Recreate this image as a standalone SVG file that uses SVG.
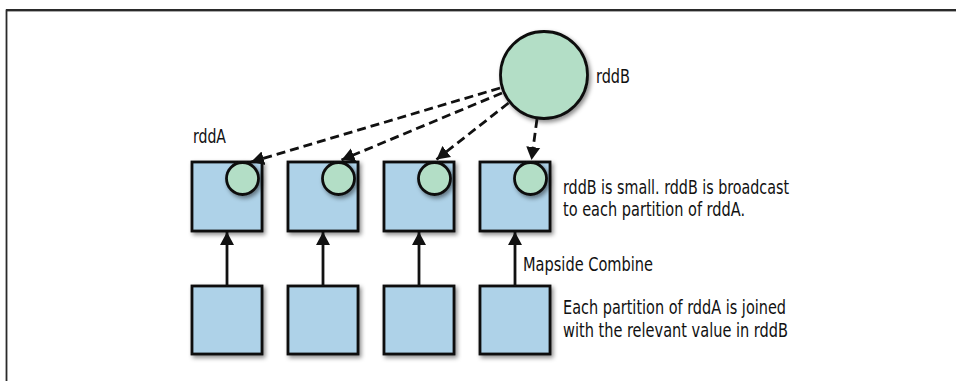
<svg xmlns="http://www.w3.org/2000/svg" width="956" height="381" viewBox="0 0 956 381">
  <style>
    .box { fill: #aed2e8; stroke: #111; stroke-width: 2.8; }
    .dot { fill: #b3dec6; stroke: #111; stroke-width: 2.8; }
    .lbl { font-family: 'DejaVu Sans Condensed', 'Liberation Sans', sans-serif; font-size: 20px; fill: #111; }
    .dash { stroke: #111; stroke-width: 2.8; stroke-dasharray: 9 5; fill: none; }
    .solid { stroke: #111; stroke-width: 2.8; fill: none; }
  </style>
  <defs>
    <filter id="sh" x="-20%" y="-20%" width="150%" height="150%">
      <feDropShadow dx="2" dy="2.5" stdDeviation="2" flood-color="#000" flood-opacity="0.45"/>
    </filter>
    <marker id="ah" markerUnits="userSpaceOnUse" markerWidth="15" markerHeight="15" refX="13" refY="7.5" orient="auto" viewBox="0 0 15 15">
      <path d="M0,0.5 L13,7.5 L0,14.5 z" fill="#111"/>
    </marker>
  </defs>
  <rect width="956" height="381" fill="#fff"/>
  <g id="frame">
    <line x1="6" y1="10" x2="956" y2="10" stroke="#2a2a2a" stroke-width="1.8"/>
    <line x1="6" y1="11.5" x2="956" y2="11.5" stroke="#aaa" stroke-width="1"/>
    <line x1="6.5" y1="9.5" x2="6.5" y2="381" stroke="#2a2a2a" stroke-width="1.8"/>
  </g>

  <g id="rddB">
    <circle class="dot" cx="544" cy="75" r="43.5" filter="url(#sh)"/>
    <text class="lbl" x="596" y="83" textLength="34" lengthAdjust="spacingAndGlyphs">rddB</text>
  </g>
  <g id="rddA-label">
    <text class="lbl" x="193" y="143" textLength="33" lengthAdjust="spacingAndGlyphs">rddA</text>
  </g>

  <g id="partA1"><rect class="box" x="192" y="162" width="70" height="69" filter="url(#sh)"/><circle class="dot" cx="242.5" cy="178.5" r="16" filter="url(#sh)"/></g>
  <g id="partA2"><rect class="box" x="288" y="162" width="70" height="69" filter="url(#sh)"/><circle class="dot" cx="338.5" cy="178.5" r="16" filter="url(#sh)"/></g>
  <g id="partA3"><rect class="box" x="384" y="162" width="70" height="69" filter="url(#sh)"/><circle class="dot" cx="434.5" cy="178.5" r="16" filter="url(#sh)"/></g>
  <g id="partA4"><rect class="box" x="480" y="162" width="70" height="69" filter="url(#sh)"/><circle class="dot" cx="530.5" cy="178.5" r="16" filter="url(#sh)"/></g>

  <g id="src1"><rect class="box" x="192" y="286" width="70" height="68" filter="url(#sh)"/></g>
  <g id="src2"><rect class="box" x="288" y="286" width="70" height="68" filter="url(#sh)"/></g>
  <g id="src3"><rect class="box" x="384" y="286" width="70" height="68" filter="url(#sh)"/></g>
  <g id="src4"><rect class="box" x="480" y="286" width="70" height="68" filter="url(#sh)"/></g>

  <g id="connectors">
    <line class="dash" x1="500" y1="88" x2="251" y2="162" marker-end="url(#ah)"/>
    <line class="dash" x1="502" y1="93" x2="341.5" y2="160" marker-end="url(#ah)"/>
    <line class="dash" x1="508.5" y1="103" x2="436.5" y2="159.5" marker-end="url(#ah)"/>
    <line class="dash" x1="537" y1="119" x2="531.5" y2="160" marker-end="url(#ah)"/>
    <line class="solid" x1="227" y1="286" x2="227" y2="232" marker-end="url(#ah)"/>
    <line class="solid" x1="323" y1="286" x2="323" y2="232" marker-end="url(#ah)"/>
    <line class="solid" x1="419" y1="286" x2="419" y2="232" marker-end="url(#ah)"/>
    <line class="solid" x1="515" y1="286" x2="515" y2="232" marker-end="url(#ah)"/>
  </g>

  <g id="notes">
    <text class="lbl" x="563" y="194" textLength="226" lengthAdjust="spacingAndGlyphs">rddB is small. rddB is broadcast</text>
    <text class="lbl" x="563" y="216" textLength="182" lengthAdjust="spacingAndGlyphs">to each partition of rddA.</text>
    <text class="lbl" x="523" y="271" textLength="130" lengthAdjust="spacingAndGlyphs">Mapside Combine</text>
    <text class="lbl" x="563" y="314" textLength="223" lengthAdjust="spacingAndGlyphs">Each partition of rddA is joined</text>
    <text class="lbl" x="563" y="337" textLength="225" lengthAdjust="spacingAndGlyphs">with the relevant value in rddB</text>
  </g>
</svg>
